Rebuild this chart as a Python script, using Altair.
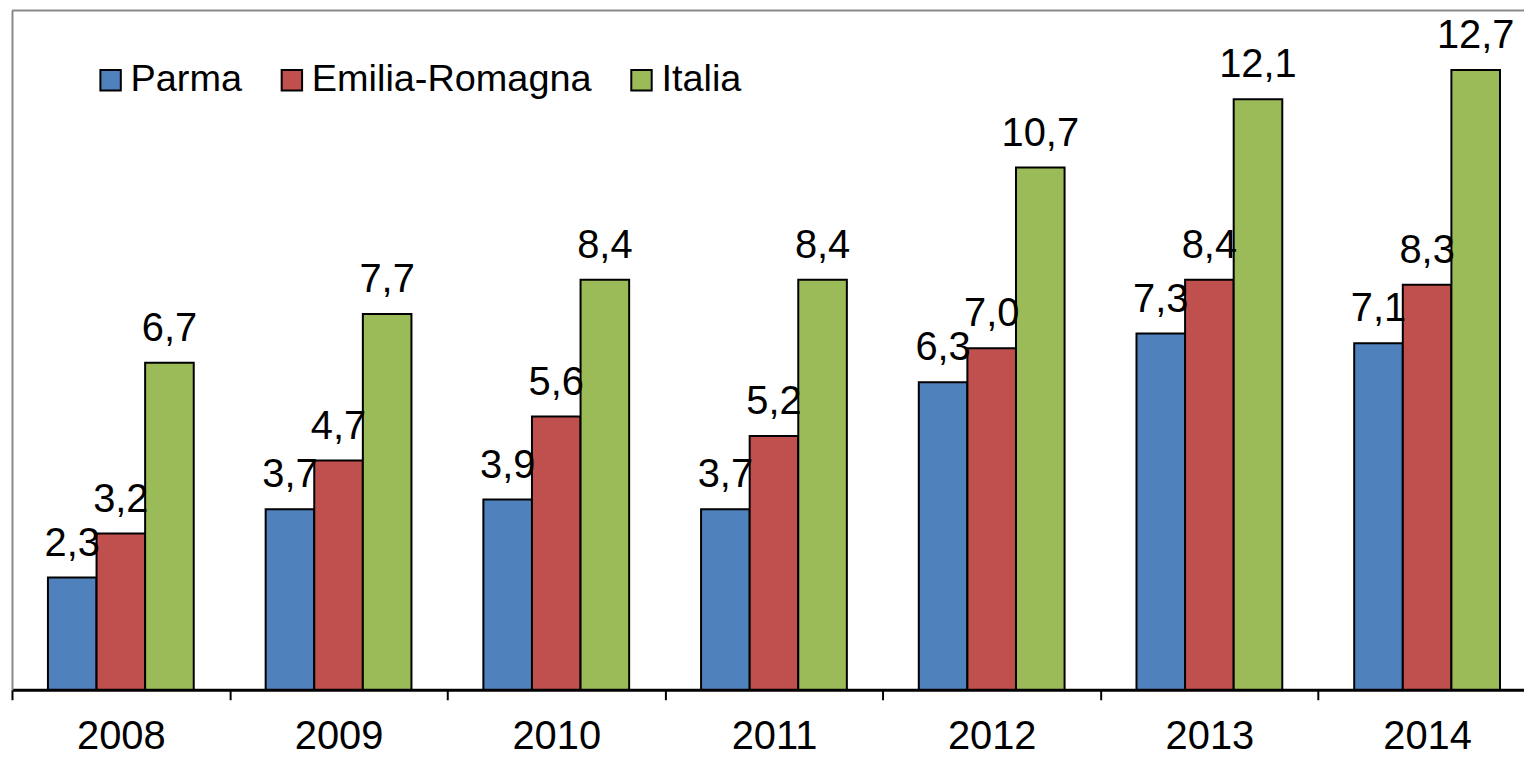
import altair as alt
import pandas as pd

years = ["2008", "2009", "2010", "2011", "2012", "2013", "2014"]
series = ["Parma", "Emilia-Romagna", "Italia"]
parma = [2.3, 3.7, 3.9, 3.7, 6.3, 7.3, 7.1]
emilia = [3.2, 4.7, 5.6, 5.2, 7.0, 8.4, 8.3]
italia = [6.7, 7.7, 8.4, 8.4, 10.7, 12.1, 12.7]
colors = ["#4F81BD", "#C0504D", "#9BBB59"]

rows = []
for s, vals in zip(series, [parma, emilia, italia]):
    for y, v in zip(years, vals):
        rows.append({"anno": y, "serie": s, "valore": v})
df = pd.DataFrame(rows)

FONT = "Liberation Sans"
GRAY = "#898989"
W, H = 1530, 682

base = alt.Chart(df).transform_calculate(
    lab="replace(format(datum.valore, '.1f'), '.', ',')"
).encode(
    x=alt.X(
        "anno:N",
        sort=years,
        scale=alt.Scale(paddingInner=0, paddingOuter=0),
        axis=alt.Axis(
            title=None, labelAngle=0, labelFont=FONT, labelFontSize=40,
            labelColor="black", tickColor="black", tickSize=10, tickWidth=2,
            domainColor="black", domainWidth=3, labelPadding=17,
            tickBand="extent",
        ),
    ),
    xOffset=alt.XOffset(
        "serie:N", sort=series,
        scale=alt.Scale(paddingInner=0, paddingOuter=0.74),
    ),
    y=alt.Y(
        "valore:Q",
        scale=alt.Scale(domain=[0, 13.92], nice=False, zero=True),
        axis=alt.Axis(labels=False, ticks=False, grid=False, title=None,
                      domainColor=GRAY, domainWidth=2),
    ),
)

bars = base.mark_bar(stroke="black", strokeWidth=2).encode(
    color=alt.Color(
        "serie:N", sort=series,
        scale=alt.Scale(domain=series, range=colors),
        legend=alt.Legend(
            orient="none", legendX=80, legendY=51, direction="horizontal",
            title=None, labelFont=FONT, labelFontSize=38, labelColor="black",
            labelLimit=1000, padding=0,
            symbolType="square", symbolSize=420, symbolStrokeColor="black",
            symbolStrokeWidth=2, labelOffset=1, columnPadding=31,
        ),
    )
)

texts = base.mark_text(
    dy=-22, baseline="alphabetic", fontSize=40, font=FONT, color="black"
).encode(text="lab:N")

top_line = alt.Chart(pd.DataFrame({"k": [0]})).mark_rule(
    color=GRAY, strokeWidth=2
).encode(y=alt.value(0))

chart = alt.layer(bars, texts, top_line).properties(
    width=W,
    height=H,
    padding={"left": 4, "top": 1, "right": -12, "bottom": 66},
    autosize=alt.AutoSizeParams(type="none"),
).configure_view(stroke=None)

chart.save("out.html", embed_options={"renderer": "svg", "actions": False})
